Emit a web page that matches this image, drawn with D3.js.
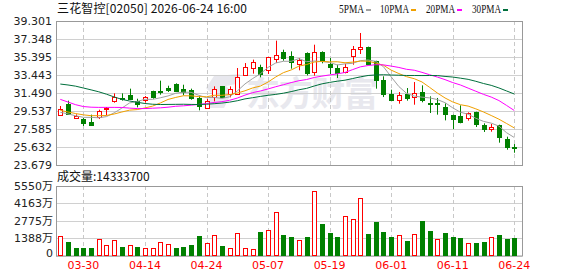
<!DOCTYPE html>
<html>
<head>
<meta charset="utf-8">
<script src="https://cdn.jsdelivr.net/npm/d3@7"></script>
<style>
  body { margin: 0; background: #fff; }
  svg { display: block; }
</style>
</head>
<body>
<div id="chart"></div>
<script>
// K-line: 三花智控 02050, daily
const dates = ["03-25","03-26","03-27","03-30","03-31","04-01","04-02","04-08","04-09","04-10",
  "04-13","04-14","04-15","04-16","04-17","04-20","04-21","04-22","04-23","04-24",
  "04-27","04-28","04-29","04-30","05-04","05-05","05-06","05-07","05-08","05-11",
  "05-12","05-13","05-14","05-15","05-18","05-19","05-20","05-21","05-22","05-26",
  "05-27","05-28","05-29","06-01","06-02","06-03","06-04","06-05","06-08","06-09",
  "06-10","06-11","06-12","06-15","06-16","06-17","06-18","06-22","06-23","06-24"]
const opens = [29.10,30.29,28.74,28.67,28.34,28.92,29.72,30.58,30.98,31.27,
  30.66,30.73,31.70,31.71,32.07,32.47,31.96,31.81,30.98,29.82,
  31.02,32.21,31.38,31.38,33.48,34.20,34.31,34.02,35.21,35.94,
  35.50,34.64,35.86,33.73,35.97,34.64,34.20,33.75,35.47,36.23,
  36.48,34.92,32.94,31.34,30.69,31.38,31.02,31.60,30.40,30.40,
  29.97,29.10,28.99,28.74,29.43,27.98,27.58,27.98,26.50,25.63]
const highs = [30.08,30.66,29.17,28.78,29.14,29.68,29.97,31.45,31.45,31.96,
  30.87,31.16,31.74,32.83,32.28,32.54,32.39,31.96,31.20,30.84,
  32.21,32.25,32.21,34.20,34.74,35.11,34.56,35.40,37.17,36.19,
  36.01,35.29,35.90,36.73,36.01,35.29,34.56,34.65,36.59,38.00,
  36.52,34.99,33.30,31.85,31.60,32.03,32.68,32.32,31.13,30.95,
  30.37,29.14,30.15,29.39,29.46,28.20,28.13,28.05,26.75,25.95]
const lows = [29.03,29.14,28.67,27.91,27.91,28.67,29.06,30.44,30.66,30.73,
  29.93,30.44,30.87,31.31,31.60,31.67,31.24,30.76,29.61,29.79,
  30.58,30.95,31.02,31.31,33.40,33.59,33.19,33.55,34.74,34.99,
  34.13,33.95,33.40,33.37,34.71,33.55,33.12,33.62,34.56,35.72,
  34.56,31.96,31.05,30.66,30.33,30.66,30.22,30.48,29.32,29.14,
  28.52,27.58,28.20,28.49,27.80,27.26,27.29,26.10,25.34,25.01]
const closes = [29.72,29.21,29.03,28.23,28.05,29.50,29.83,31.09,30.80,30.84,
  30.29,31.02,31.05,31.63,31.85,31.74,31.63,30.95,30.04,30.58,
  31.89,31.02,31.89,33.19,34.35,34.85,33.59,35.36,35.58,35.29,
  34.82,35.07,33.69,35.94,35.00,34.35,33.66,34.30,36.23,36.48,
  34.67,32.94,31.38,30.73,31.24,30.95,31.52,30.76,30.33,30.36,
  29.25,28.70,28.34,29.28,28.16,27.55,27.76,26.75,25.66,25.56]
// volume in 万
const volumes = [1523,1115,626,626,626,1333,870,1251,707,870,
  707,598,598,1088,925,626,707,870,1523,1034,
  1605,789,598,1822,598,517,1850,2067,3454,1605,
  1442,1251,1442,5168,2502,1768,1442,3128,2883,4597,
  1686,2666,1850,1442,1659,1197,1741,2747,1931,1333,
  1768,1442,1360,1034,1034,1115,1442,1605,1278,1433]
const ma5 = [29.40,29.22,29.02,28.85,28.85,28.80,28.93,29.34,29.85,30.41,
  30.57,30.81,30.80,30.97,31.17,31.46,31.58,31.56,31.24,30.99,
  31.02,30.90,31.08,31.71,32.47,33.06,33.57,34.27,34.75,34.93,
  34.93,35.22,34.89,34.96,34.90,34.81,34.53,34.65,34.71,35.00,
  35.07,34.92,34.34,33.24,32.19,31.45,31.16,31.04,30.96,30.78,
  30.44,29.88,29.40,29.19,28.75,28.41,28.22,27.90,27.18,26.66]
const ma10 = [29.61,29.43,29.26,29.12,29.03,29.03,29.05,29.21,29.43,29.63,
  29.69,29.87,30.07,30.41,30.79,31.01,31.19,31.18,31.10,31.08,
  31.24,31.24,31.32,31.48,31.73,32.04,32.24,32.68,33.23,33.70,
  33.99,34.40,34.58,34.85,34.92,34.87,34.88,34.77,34.84,34.95,
  34.94,34.73,34.50,33.97,33.60,33.26,33.04,32.69,32.10,31.49,
  30.95,30.52,30.22,30.07,29.77,29.43,29.05,28.65,28.18,27.70]
const ma20 = [30.80,30.51,30.22,30.02,29.95,29.93,29.93,29.93,29.92,29.85,
  29.80,29.80,29.84,29.88,29.95,30.05,30.10,30.17,30.25,30.35,
  30.46,30.55,30.70,30.94,31.26,31.53,31.71,31.93,32.17,32.39,
  32.62,32.82,32.95,33.17,33.32,33.45,33.56,33.72,34.03,34.33,
  34.47,34.56,34.54,34.41,34.26,34.06,33.96,33.73,33.47,33.22,
  32.94,32.62,32.36,32.02,31.68,31.34,31.05,30.67,30.14,29.59]
const ma30 = [32.46,32.36,32.23,32.03,31.83,31.62,31.36,31.06,30.80,30.62,
  30.48,30.35,30.27,30.24,30.25,30.26,30.27,30.25,30.24,30.27,
  30.33,30.40,30.50,30.65,30.85,30.98,31.12,31.24,31.34,31.47,
  31.64,31.84,31.99,32.25,32.48,32.64,32.77,32.88,33.06,33.24,
  33.39,33.45,33.47,33.44,33.42,33.39,33.39,33.38,33.39,33.38,
  33.29,33.22,33.10,32.97,32.76,32.52,32.32,32.04,31.71,31.38]

const priceTicks = ["39.301","37.348","35.395","33.443","31.490","29.537","27.585","25.632","23.679"]
const volTicks = [5550, 4163, 2775, 1388, 0]
const xTickDates = ["03-30","04-14","04-24","05-07","05-19","06-01","06-11","06-24"]
const maNames = ["5PMA","10PMA","20PMA","30PMA"]
const maColors = ["#a0a0a0","#f0a000","#ff00ff","#006f3c"]

const W = 578, H = 276
const left = 56, right = 522
const priceTop = 21, priceBottom = 165
const volTop = 186, volBottom = 255.5

const svg = d3.select("#chart").append("svg")
    .attr("width", W).attr("height", H)
    .style("font-family", "'DejaVu Sans', sans-serif")

const x = d3.scalePoint().domain(dates).range([60.3, 514.3])
const y = d3.scaleLinear().domain([+priceTicks[8], +priceTicks[0]]).range([priceBottom, priceTop])
const yv = d3.scaleLinear().domain([0, 5550]).range([volBottom, volTop])

// title + legend
svg.append("text")
    .attr("x", 57).attr("y", 13)
    .style("font-size", "12px")
    .style("font-family", "'Noto Sans CJK SC', 'DejaVu Sans', sans-serif")
    .attr("fill", "#111")
    .attr("textLength", 190)
    .text("三花智控[02050] 2026-06-24 16:00")

const legendX = [339, 380, 426, 472]
maNames.forEach(function(name, i) {
    let w = name.length == 4 ? 25 : 29
    svg.append("text")
        .attr("x", legendX[i]).attr("y", 13)
        .style("font-size", "13px")
        .style("font-family", "'Liberation Serif', serif")
        .attr("fill", "#111")
        .attr("textLength", w)
        .attr("lengthAdjust", "spacingAndGlyphs")
        .text(name)
    svg.append("rect")
        .attr("x", legendX[i] + w + 2).attr("y", 9)
        .attr("width", 5).attr("height", 2)
        .attr("fill", maColors[i])
})

// watermark
const wm = svg.append("g").attr("fill", "#e8e8ee")
wm.append("path")
    .attr("d", "M214,76 L240,74 L236,84 L226,86 L232,92 L224,108 L204,108 L212,94 L206,88 Z")
wm.append("text")
    .attr("x", 246).attr("y", 106)
    .attr("textLength", 132)
    .style("font-size", "34px").style("font-weight", "bold")
    .style("font-family", "'Noto Sans CJK SC', sans-serif")
    .text("东方财富")

// grids
function drawGrid(top, bottom, ticksY) {
    svg.append("g").selectAll("line")
        .data(ticksY).enter().append("line")
        .attr("x1", left).attr("x2", right)
        .attr("y1", d => Math.round(d) + 0.5).attr("y2", d => Math.round(d) + 0.5)
        .attr("stroke", "#d0d0d0")
    svg.append("g").selectAll("line")
        .data(xTickDates).enter().append("line")
        .attr("x1", d => Math.round(x(d)) + 0.5).attr("x2", d => Math.round(x(d)) + 0.5)
        .attr("y1", top).attr("y2", bottom)
        .attr("stroke", "#c8c8c8")
        .attr("stroke-dasharray", "4,3")
    svg.append("rect")
        .attr("x", left + 0.5).attr("y", top + 0.5)
        .attr("width", right - left).attr("height", bottom - top)
        .attr("fill", "none").attr("stroke", "#999")
}
drawGrid(priceTop, priceBottom, priceTicks.map(d => y(+d)))
drawGrid(volTop, volBottom, volTicks.map(d => yv(d)))

// y labels
svg.append("g").selectAll("text")
    .data(priceTicks).enter().append("text")
    .attr("x", 52).attr("y", d => y(+d) + 4)
    .attr("text-anchor", "end")
    .style("font-size", "11px")
    .attr("fill", "#222")
    .text(d => d)

svg.append("g").selectAll("text")
    .data(volTicks).enter().append("text")
    .attr("x", 53).attr("y", d => Math.min(yv(d) + 4, 257))
    .attr("text-anchor", "end")
    .style("font-size", "11px")
    .style("font-family", "'DejaVu Sans', 'Noto Sans CJK SC', sans-serif")
    .attr("fill", "#222")
    .text(d => d == 0 ? "0" : d + "万")

svg.append("text")
    .attr("x", 57).attr("y", 181)
    .style("font-size", "12px")
    .style("font-family", "'Noto Sans CJK SC', sans-serif")
    .attr("fill", "#111")
    .text("成交量:14333700")

// x labels
svg.append("g").selectAll("text")
    .data(xTickDates).enter().append("text")
    .attr("x", d => x(d)).attr("y", 269)
    .attr("text-anchor", "middle")
    .style("font-size", "11px")
    .attr("fill", "#f00")
    .text(d => d)

// candles
const up = "#f00", down = "#008000"
const candles = dates.map(function(d, i) {
    return {date: d, open: opens[i], high: highs[i], low: lows[i], close: closes[i], vol: volumes[i],
        rise: i == 0 ? closes[i] >= opens[i] : closes[i] >= closes[i - 1]}
})
const cg = svg.append("g")
candles.forEach(function(c) {
    let cx = Math.round(x(c.date)) + 0.5
    let isUp = c.close >= c.open
    let col = isUp ? up : down
    cg.append("line")
        .attr("x1", cx).attr("x2", cx)
        .attr("y1", y(c.high)).attr("y2", y(c.low))
        .attr("stroke", col)
    let yTop = Math.round(y(Math.max(c.open, c.close)))
    let yBot = Math.round(y(Math.min(c.open, c.close)))
    if (yBot - yTop < 1) yBot = yTop + 1
    if (isUp) {
        cg.append("rect")
            .attr("x", cx - 2).attr("y", yTop + 0.5)
            .attr("width", 4).attr("height", yBot - yTop)
            .attr("fill", "#fff").attr("stroke", col)
    } else {
        cg.append("rect")
            .attr("x", cx - 2.5).attr("y", yTop)
            .attr("width", 5).attr("height", yBot - yTop + 1)
            .attr("fill", col)
    }
})

// MA lines
const maSeries = [ma5, ma10, ma20, ma30]
maSeries.forEach(function(series, k) {
    svg.append("path")
        .datum(series)
        .attr("fill", "none")
        .attr("stroke", maColors[k])
        .attr("stroke-width", 1)
        .attr("d", d3.line()
            .x((d, i) => x(dates[i]))
            .y(d => y(d)))
})

// volume bars
const vg = svg.append("g")
candles.forEach(function(c) {
    let cx = Math.round(x(c.date)) + 0.5
    let top = Math.round(yv(c.vol))
    if (c.rise) {
        vg.append("rect")
            .attr("x", cx - 2).attr("y", top + 0.5)
            .attr("width", 4).attr("height", Math.round(volBottom) - top - 1)
            .attr("fill", "#fff").attr("stroke", up)
    } else {
        vg.append("rect")
            .attr("x", cx - 2.5).attr("y", top)
            .attr("width", 5).attr("height", Math.round(volBottom) - top)
            .attr("fill", down)
    }
})
</script>
</body>
</html>
